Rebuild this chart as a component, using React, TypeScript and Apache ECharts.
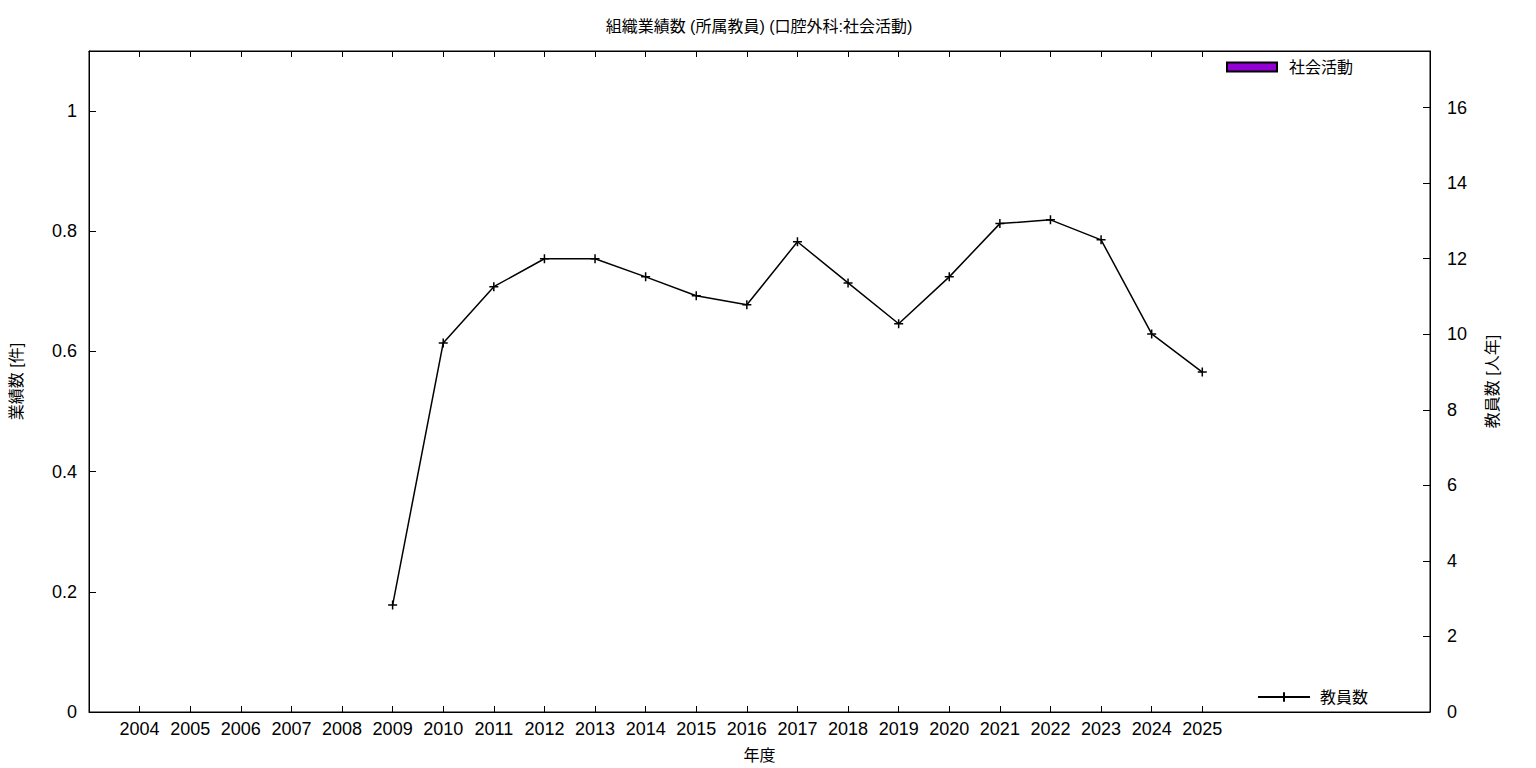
import React, { useEffect, useRef } from "react";
import * as echarts from "echarts";

const years = [2004, 2005, 2006, 2007, 2008, 2009, 2010, 2011, 2012, 2013, 2014, 2015, 2016, 2017, 2018, 2019, 2020, 2021, 2022, 2023, 2024, 2025];
const staffYears = [2009, 2010, 2011, 2012, 2013, 2014, 2015, 2016, 2017, 2018, 2019, 2020, 2021, 2022, 2023, 2024, 2025];
const staffCounts = [2.83, 9.77, 11.26, 12.0, 12.0, 11.52, 11.02, 10.78, 12.45, 11.36, 10.28, 11.52, 12.93, 13.03, 12.5, 10.01, 9.0];
const activityCounts: number[] = [];
const leftTicks = [0, 0.2, 0.4, 0.6, 0.8, 1];
const rightTicks = [0, 2, 4, 6, 8, 10, 12, 14, 16];

const FONT = "'Liberation Sans', 'Noto Sans CJK JP', sans-serif";

export default function App() {
  const ref = useRef<HTMLDivElement>(null);
  useEffect(() => {
    if (!ref.current) return;
    const chart = echarts.init(ref.current, null, { renderer: "svg" });
    const plus = "path://M0,5L10,5M5,0L5,10";
    chart.setOption({
      animation: false,
      backgroundColor: "#fff",
      textStyle: { fontFamily: FONT, color: "#000" },
      title: {
        text: "組織業績数 (所属教員) (口腔外科:社会活動)",
        left: 754,
        textAlign: "center",
        top: 13,
        textStyle: { fontSize: 16, fontWeight: "normal", color: "#000", fontFamily: FONT },
      },
      grid: {
        left: 88,
        right: 106,
        top: 51,
        bottom: 56,
        show: true,
        borderColor: "#000",
        borderWidth: 1,
        backgroundColor: "transparent",
      },
      legend: [
        {
          data: ["社会活動"],
          left: 1221,
          top: 54,
          icon: "rect",
          itemWidth: 50,
          itemHeight: 9,
          textStyle: { fontSize: 16, color: "#000", fontFamily: FONT, padding: [0, 0, 0, 7] },
        },
        {
          data: ["教員数"],
          left: 1252,
          top: 684,
          itemWidth: 52,
          itemHeight: 12,
          textStyle: { fontSize: 16, color: "#000", fontFamily: FONT, padding: [0, 0, 0, 5] },
        },
      ],
      xAxis: [
        {
          type: "value",
          position: "bottom",
          min: 2003,
          max: 2029.5,
          interval: 1,
          name: "年度",
          nameLocation: "middle",
          nameGap: 35,
          nameTextStyle: { fontSize: 16, color: "#000", fontFamily: FONT },
          axisLine: { show: true, onZero: false, lineStyle: { color: "#000", width: 1 } },
          axisTick: { show: true, inside: true, length: 6, customValues: years, lineStyle: { color: "#000" } },
          axisLabel: {
            show: true,
            customValues: years,
            margin: 8,
            fontSize: 18,
            color: "#000",
            fontFamily: FONT,
            formatter: (v: number) => String(v),
          },
          splitLine: { show: false },
        },
        {
          type: "value",
          position: "top",
          min: 2003,
          max: 2029.5,
          interval: 1,
          axisLine: { show: true, onZero: false, lineStyle: { color: "#000", width: 1 } },
          axisTick: { show: true, inside: true, length: 6, customValues: years, lineStyle: { color: "#000" } },
          axisLabel: { show: false },
          splitLine: { show: false },
        },
      ],
      yAxis: [
        {
          type: "value",
          position: "left",
          min: 0,
          max: 1.1,
          interval: 0.2,
          name: "業績数 [件]",
          nameLocation: "middle",
          nameRotate: 90,
          nameGap: 65,
          nameTextStyle: { fontSize: 16, color: "#000", fontFamily: FONT },
          axisLine: { show: true, onZero: false, lineStyle: { color: "#000", width: 1 } },
          axisTick: { show: true, inside: true, length: 7, customValues: leftTicks, lineStyle: { color: "#000" } },
          axisLabel: {
            customValues: leftTicks,
            margin: 12,
            fontSize: 18,
            color: "#000",
            fontFamily: FONT,
            formatter: (v: number) => String(Math.round(v * 10) / 10),
          },
          splitLine: { show: false },
        },
        {
          type: "value",
          position: "right",
          min: 0,
          max: 17.5,
          interval: 2,
          name: "教員数 [人年]",
          nameLocation: "middle",
          nameRotate: 90,
          nameGap: 54,
          nameTextStyle: { fontSize: 16, color: "#000", fontFamily: FONT },
          axisLine: { show: true, onZero: false, lineStyle: { color: "#000", width: 1 } },
          axisTick: { show: true, inside: true, length: 7, customValues: rightTicks, lineStyle: { color: "#000" } },
          axisLabel: {
            customValues: rightTicks,
            margin: 17,
            fontSize: 18,
            color: "#000",
            fontFamily: FONT,
            formatter: (v: number) => String(v),
          },
          splitLine: { show: false },
        },
      ],
      series: [
        {
          name: "社会活動",
          type: "bar",
          xAxisIndex: 0,
          yAxisIndex: 0,
          data: activityCounts,
          itemStyle: { color: "#9400D3", borderColor: "#000", borderWidth: 1 },
        },
        {
          name: "教員数",
          type: "line",
          xAxisIndex: 0,
          yAxisIndex: 1,
          data: staffYears.map((y, i) => [y, staffCounts[i]]),
          symbol: plus,
          symbolSize: 9,
          symbolKeepAspect: true,
          showAllSymbol: true,
          lineStyle: { color: "#000", width: 1.5 },
          itemStyle: { color: "#000", borderColor: "#000", borderWidth: 1.5 },
        },
      ],
    });
    return () => chart.dispose();
  }, []);
  return (
    <div
      ref={ref}
      style={{ position: "fixed", left: 0, top: 0, width: 1536, height: 768, background: "#fff" }}
    />
  );
}
